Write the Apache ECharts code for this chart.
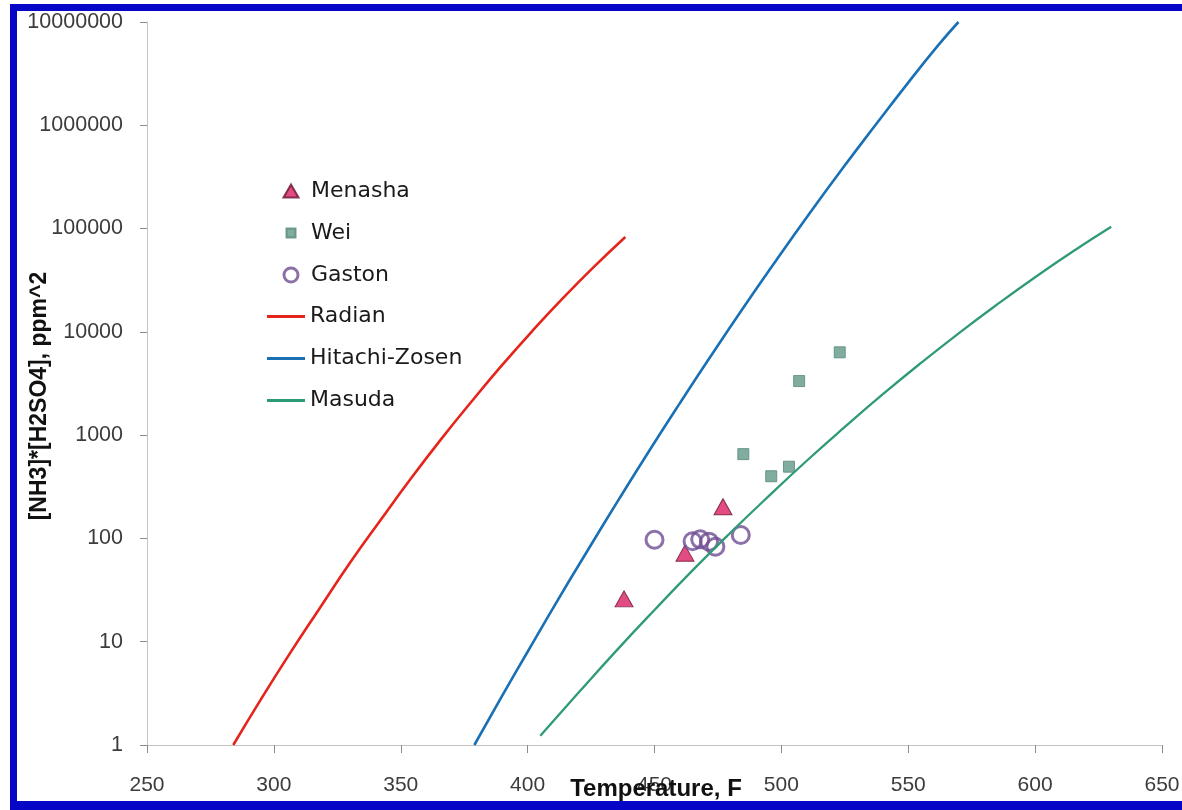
<!DOCTYPE html>
<html>
<head>
<meta charset="utf-8">
<title>Ammonium bisulfate formation</title>
<script src="https://cdn.jsdelivr.net/npm/echarts@6/dist/echarts.min.js"></script>
<style>
  html, body { margin: 0; padding: 0; background: #ffffff; }
  #chart { width: 1182px; height: 810px; }
</style>
</head>
<body>
<div id="chart"></div>
<script>
// Measured deposits: temperature (F) and [NH3]*[H2SO4] product (ppm^2)
const menashaTemp = [438, 462, 477];
const menashaProd = [26, 72, 203];

const weiTemp = [485, 496, 503, 507, 523];
const weiProd = [655, 400, 495, 3340, 6340];

const gastonTemp = [450, 465, 468, 471.5, 474, 484];
const gastonProd = [97, 94, 98, 93, 83, 108];

// Correlation curves
const radianTemp = [284, 295, 306, 318, 330, 342, 354, 366, 378, 390, 402, 414, 426, 438.5];
const radianProd = [1, 2.8, 7.5, 21, 58, 150, 380, 920, 2130, 4780, 10300, 21300, 42300, 83000];

const hitachiTemp = [379, 390, 400, 412, 424, 436, 448, 460, 472, 485, 498, 511, 524, 537, 550, 562, 569.8];
const hitachiProd = [1, 3.0, 8.0, 25.6, 79, 240, 710, 2040, 5730, 17100, 49400, 139000, 379000,
                     1000000, 2590000, 6030000, 10000000];

const masudaTemp = [405, 420, 435, 450, 465, 480, 495, 510, 525, 540, 555, 570, 585, 600, 615, 630];
const masudaProd = [1.23, 3.2, 8.2, 20.3, 49, 114, 257, 565, 1200, 2490, 5000, 9740, 18400, 33800, 60300, 104000];

// Axis ranges
const tempMin = 250, tempMax = 650, tempStep = 50;
const prodMin = 1, prodMax = 10000000;

const xTitle = 'Temperature, F';
const yTitle = '[NH3]*[H2SO4], ppm^2';

const pairs = (xs, ys) => xs.map((x, i) => [x, ys[i]]);

const colors = {
  menasha: '#dc1f63',
  wei: '#62998a',
  gaston: '#6f4e94',
  radian: '#e5251b',
  hitachi: '#1a70b4',
  masuda: '#2f9a78'
};

const labelFont = 'Liberation Sans';
const legendText = { fontFamily: 'DejaVu Sans', fontSize: 22, lineHeight: 22, color: '#1a1a1a' };
const lineIcon = 'path://M0,0H38V3H0Z';

const chart = echarts.init(document.getElementById('chart'), null, { renderer: 'canvas' });

chart.setOption({
  backgroundColor: '#ffffff',
  animation: false,
  grid: { left: 147, right: 20, top: 22, bottom: 65, outerBoundsMode: 'none', containLabel: false },
  xAxis: {
    type: 'value',
    min: tempMin, max: tempMax, interval: tempStep,
    axisLine: { show: true, lineStyle: { color: '#c4c4c4', width: 1 } },
    axisTick: { show: true, length: 8, lineStyle: { color: '#8c8c8c' } },
    splitLine: { show: false },
    axisLabel: { margin: 30, color: '#3c3c3c', fontFamily: labelFont, fontSize: 21 }
  },
  yAxis: {
    type: 'log', logBase: 10,
    min: prodMin, max: prodMax,
    axisLine: { show: true, lineStyle: { color: '#c4c4c4', width: 1 } },
    axisTick: { show: true, length: 7, lineStyle: { color: '#8c8c8c' } },
    minorTick: { show: false },
    splitLine: { show: false },
    axisLabel: {
      margin: 24, color: '#3c3c3c', fontFamily: labelFont, fontSize: 21.5,
      formatter: v => String(Math.round(v))
    }
  },
  legend: [
    {
      orient: 'vertical', left: 282, top: 180, padding: 0,
      itemWidth: 30, itemHeight: 14, itemGap: 20,
      textStyle: legendText,
      selectedMode: false,
      data: [
        { name: 'Menasha', icon: 'path://M0,0M16,14M8,0.5L15.5,13.5L0.5,13.5Z' },
        { name: 'Wei', icon: 'path://M0,0M14,14M2.5,2.5H11.5V11.5H2.5Z' },
        { name: 'Gaston', icon: 'circle',
          itemStyle: { color: '#ffffff', borderColor: colors.gaston, borderWidth: 3 } }
      ]
    },
    {
      orient: 'vertical', left: 267, top: 305.5, padding: 0,
      itemWidth: 38, itemHeight: 14, itemGap: 20,
      textStyle: legendText,
      itemStyle: { borderWidth: 0 },
      selectedMode: false,
      data: [
        { name: 'Radian', icon: lineIcon },
        { name: 'Hitachi-Zosen', icon: lineIcon },
        { name: 'Masuda', icon: lineIcon }
      ]
    }
  ],
  series: [
    {
      name: 'Radian', type: 'line', data: pairs(radianTemp, radianProd),
      smooth: true, symbol: 'none', color: colors.radian,
      lineStyle: { color: colors.radian, width: 2.6 }
    },
    {
      name: 'Hitachi-Zosen', type: 'line', data: pairs(hitachiTemp, hitachiProd),
      smooth: true, symbol: 'none', color: colors.hitachi,
      lineStyle: { color: colors.hitachi, width: 2.6 }
    },
    {
      name: 'Masuda', type: 'line', data: pairs(masudaTemp, masudaProd),
      smooth: true, symbol: 'none', color: colors.masuda,
      lineStyle: { color: colors.masuda, width: 2.3 }
    },
    {
      name: 'Menasha', type: 'scatter', data: pairs(menashaTemp, menashaProd),
      symbol: 'triangle', symbolSize: [18, 16],
      itemStyle: { color: colors.menasha, borderColor: '#6a1232', borderWidth: 1 }
    },
    {
      name: 'Wei', type: 'scatter', data: pairs(weiTemp, weiProd),
      symbol: 'rect', symbolSize: 11,
      itemStyle: { color: colors.wei, borderColor: '#568878', borderWidth: 1 }
    },
    {
      name: 'Gaston', type: 'scatter', data: pairs(gastonTemp, gastonProd),
      symbol: 'circle', symbolSize: 17,
      itemStyle: { color: 'rgba(0,0,0,0)', borderColor: colors.gaston, borderWidth: 3 }
    }
  ],
  graphic: [
    // axis titles
    {
      type: 'text', x: 656, y: 789, z: 10,
      style: { text: xTitle, font: 'bold 24px "Liberation Sans"', fill: '#111111',
               align: 'center', verticalAlign: 'middle' }
    },
    {
      type: 'text', x: 40, y: 396, rotation: Math.PI / 2, z: 10,
      style: { text: yTitle, font: 'bold 23px "Liberation Sans"', fill: '#111111',
               align: 'center', verticalAlign: 'middle' }
    },
    // blue frame (left, top, bottom)
    { type: 'rect', z: 20, shape: { x: 10, y: 5, width: 7, height: 805 }, style: { fill: '#0606c6' } },
    { type: 'rect', z: 20, shape: { x: 10, y: 4, width: 1172, height: 7 }, style: { fill: '#0606c6' } },
    { type: 'rect', z: 20, shape: { x: 10, y: 801, width: 1172, height: 9 }, style: { fill: '#0606c6' } }
  ]
});
</script>
</body>
</html>
